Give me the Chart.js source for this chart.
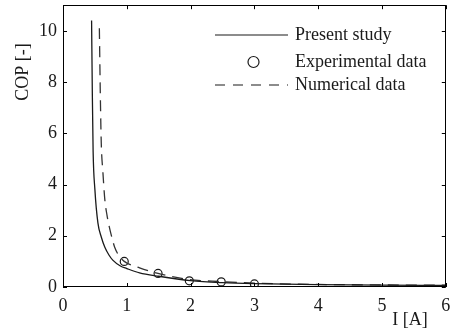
<!DOCTYPE html>
<html>
<head>
<meta charset="utf-8">
<script src="https://cdn.jsdelivr.net/npm/chart.js@4"></script>
<style>
  body { margin: 0; background: #fff; }
  #wrap { width: 451px; height: 332px; }
</style>
</head>
<body>
<div id="wrap"><canvas id="copChart" width="451" height="332"></canvas></div>
<script>
// values
const presentI   = [0.448, 0.46, 0.472, 0.5, 0.547, 0.6, 0.656, 0.72, 0.78, 0.9, 1.0, 1.2, 1.5, 2.0, 2.5, 3.0, 4.0, 5.0, 6.0];
const presentCOP = [10.4, 7.5, 5.3, 3.8, 2.5, 1.95, 1.55, 1.25, 1.05, 0.82, 0.72, 0.55, 0.42, 0.25, 0.17, 0.13, 0.09, 0.07, 0.06];

const numericalI   = [0.57, 0.585, 0.6, 0.625, 0.656, 0.69, 0.73, 0.77, 0.81, 0.87, 0.96, 1.2, 1.49, 1.98, 2.48, 3.0, 4.0, 5.0, 6.0];
const numericalCOP = [10.1, 7.5, 5.6, 4.5, 3.4, 2.8, 2.3, 1.9, 1.55, 1.25, 1.0, 0.75, 0.53, 0.29, 0.21, 0.15, 0.1, 0.08, 0.07];

const expI   = [0.96, 1.49, 1.98, 2.48, 3.0];
const expCOP = [1.0, 0.53, 0.24, 0.2, 0.12];

const xTicks = [0, 1, 2, 3, 4, 5, 6];
const yTicks = [0, 2, 4, 6, 8, 10];

const legendLabels = ['Present study', 'Experimental data', 'Numerical data'];

const serif = 'Liberation Serif, Times New Roman, serif';
const ink = '#1a1a1a';

function toPoints(xs, ys) {
    return xs.map((x, i) => ({ x: x, y: ys[i] }));
}

function noPad(s) {
    s.paddingTop = 0;
    s.paddingBottom = 0;
    s.paddingLeft = 0;
    s.paddingRight = 0;
}

// box round the plot, inward ticks, axis names and legend
const framePlugin = {
    id: 'frame',
    afterDraw(chart) {
        const ctx = chart.ctx;
        const a = chart.chartArea;
        const xs = chart.scales.x;
        const ys = chart.scales.y;
        const tl = 4;
        ctx.save();
        ctx.strokeStyle = '#000';
        ctx.lineWidth = 1;
        ctx.strokeRect(Math.round(a.left) + 0.5, Math.round(a.top) + 0.5,
            Math.round(a.right - a.left) - 1, Math.round(a.bottom - a.top) - 1);
        ctx.beginPath();
        xTicks.forEach(v => {
            const px = Math.round(xs.getPixelForValue(v)) + 0.5;
            ctx.moveTo(px, a.bottom); ctx.lineTo(px, a.bottom - tl);
            ctx.moveTo(px, a.top); ctx.lineTo(px, a.top + tl);
        });
        yTicks.forEach(v => {
            const py = Math.round(ys.getPixelForValue(v)) + 0.5;
            ctx.moveTo(a.left, py); ctx.lineTo(a.left + tl, py);
            ctx.moveTo(a.right, py); ctx.lineTo(a.right - tl, py);
        });
        ctx.stroke();

        ctx.fillStyle = ink;
        ctx.font = '18px ' + serif;
        ctx.textAlign = 'center';
        ctx.textBaseline = 'middle';
        ctx.fillText('I [A]', 410, 320);
        ctx.save();
        ctx.translate(23, 72);
        ctx.rotate(-Math.PI / 2);
        ctx.fillText('COP [-]', 0, 0);
        ctx.restore();

        // legend
        const lx0 = 215, lx1 = 288, tx = 295;
        const rows = [35, 62, 85];
        ctx.textAlign = 'left';
        ctx.strokeStyle = ink;
        ctx.lineWidth = 1.2;
        ctx.beginPath();
        ctx.moveTo(lx0, rows[0]); ctx.lineTo(lx1, rows[0]);
        ctx.stroke();
        ctx.beginPath();
        ctx.arc((lx0 + lx1) / 2 + 2, rows[1], 5.5, 0, Math.PI * 2);
        ctx.stroke();
        ctx.setLineDash([10, 8]);
        ctx.beginPath();
        ctx.moveTo(lx0, rows[2]); ctx.lineTo(lx1, rows[2]);
        ctx.stroke();
        ctx.setLineDash([]);
        legendLabels.forEach((t, i) => ctx.fillText(t, tx, rows[i]));
        ctx.restore();
    }
};

const ctx = document.getElementById('copChart').getContext('2d');
const copChart = new Chart(ctx, {
    type: 'scatter',
    data: {
        datasets: [{
            label: 'Present study',
            data: toPoints(presentI, presentCOP),
            showLine: true,
            borderColor: ink,
            borderWidth: 1.3,
            pointRadius: 0,
            cubicInterpolationMode: 'monotone'
        }, {
            label: 'Numerical data',
            data: toPoints(numericalI, numericalCOP),
            showLine: true,
            borderColor: '#333',
            borderWidth: 1.3,
            borderDash: [11, 7],
            pointRadius: 0,
            cubicInterpolationMode: 'monotone'
        }, {
            label: 'Experimental data',
            data: toPoints(expI, expCOP),
            showLine: false,
            pointRadius: 4,
            pointStyle: 'circle',
            pointBackgroundColor: 'rgba(0,0,0,0)',
            pointBorderColor: ink,
            pointBorderWidth: 1.2
        }]
    },
    options: {
        responsive: false,
        animation: false,
        devicePixelRatio: 1,
        layout: { padding: { top: 4, right: 4, left: 0, bottom: 0 } },
        plugins: {
            legend: { display: false },
            tooltip: { enabled: false }
        },
        scales: {
            x: {
                type: 'linear',
                min: 0,
                max: 6,
                afterBuildTicks: s => { s.ticks = xTicks.map(v => ({ value: v })); },
                afterFit: s => { s.height = 45; noPad(s); },
                grid: { display: false, drawTicks: false },
                border: { display: false },
                ticks: {
                    color: ink,
                    padding: 8,
                    maxRotation: 0,
                    font: { family: serif, size: 18 }
                }
            },
            y: {
                type: 'linear',
                min: 0,
                max: 11,
                afterBuildTicks: s => { s.ticks = yTicks.map(v => ({ value: v })); },
                afterFit: s => { s.width = 63; noPad(s); },
                grid: { display: false, drawTicks: false },
                border: { display: false },
                ticks: {
                    color: ink,
                    padding: 6,
                    font: { family: serif, size: 18 }
                }
            }
        }
    },
    plugins: [framePlugin]
});
</script>
</body>
</html>
